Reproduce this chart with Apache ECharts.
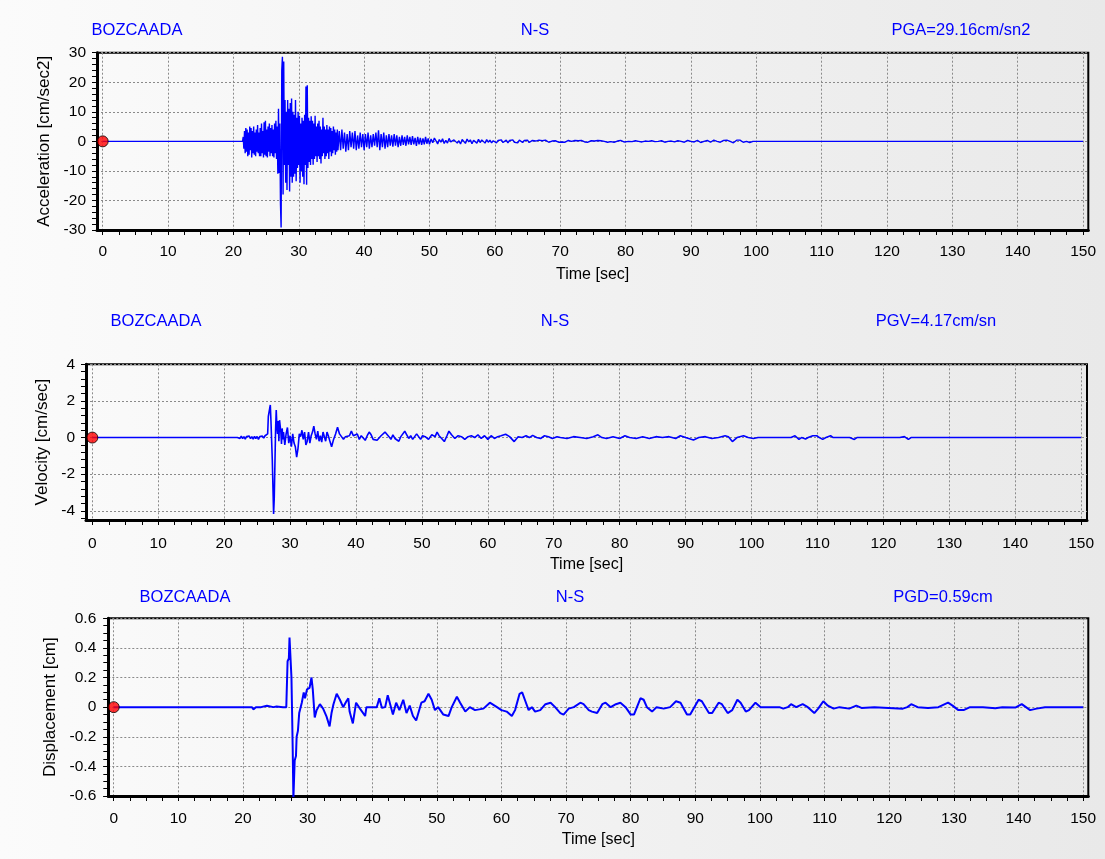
<!DOCTYPE html>
<html><head><meta charset="utf-8">
<script src="https://cdn.jsdelivr.net/npm/echarts@6/dist/echarts.min.js"></script>
<style>
html,body{margin:0;padding:0;}
#c{width:1105px;height:859px;background:linear-gradient(to right,#fbfbfb 0%,#f3f3f3 45%,#e9e9e9 100%);}
</style>
</head><body><div id="c"></div>
<script>
// ---------- tick labels ----------
const timeTicks = [0,10,20,30,40,50,60,70,80,90,100,110,120,130,140,150];
const accYTicks = [-30,-20,-10,0,10,20,30];
const velYTicks = [-4,-2,0,2,4];
const dispYTicks = [-0.6,-0.4,-0.2,0,0.2,0.4,0.6];

// ---------- acceleration [cm/sec2] ----------
const accSeg1Start = 21.4, accSeg1Step = 0.1;
const accSeg1 = [
 0, 1.5, -2.5, 3.5, -4, 4.5, -3.5,
 4, -5, 3, -4.5, 5, -3, 4.5, -5.5, 3.5, -4,
 5, -4.5, 3, -5, 4, -3.5, 5.5, -4, 3, -5,
 4.5, -5, 6, -4, 3.5, -5.5, 6.5, -4.5, 7, -5,
 4, -5.5, 5, -3.5, 6, -5, 4.5, -4, 5.5, -5,
 4, -5.5, 6, -4, 7, -6, 5, -11, 11, -10.7,
 6, -21, -29.16, 24, 28.6, -18, 27, -8, 14, -14,
 10, -16.5, 14, -8, 11, -17, 13, -12, 14.5, -14,
 10, -12, 9, -11, 14, -13.5, 8, -9, 10, -8,
 8.7, -14, 6, -10, 8, -12, 7, -14.5, 9, -8,
 18.6, -14.7, 19, -9, 8, -7, 7, -8, 8.5, -6,
 7, -7.9, 6, -6, 8.7, -5, 5, -7, 6, -5,
 7, -6, 5, -7.5, 4, -5, 8, -4, 5, -6,
 4, -5, 5.5, -4, 4, -6, 5, -3.5, 4.5, -5,
 3.5, -4, 5, -3, 4, -4.5, 3, -3.5, 4, -3
];
const accSeg2Start = 36.2, accSeg2Step = 0.2;
const accSeg2 = [
 3.5, -3, 4, -2.5, 3, -3.5, 2.5, -3, 3.5, -2,
 3, -2.5, 3.5, -3, 2, -2.5, 3, -2, 2.5, -3,
 2.5, -2, 3, -2.5, 2, -2, 2.5, -1.5, 3, -2,
 3.7, -3, 2.5, -2, 3, -2.5, 2, -2, 2.5, -1.5,
 2, -1.8, 2.5, -1.5, 2, -2, 1.5, -1.5, 2, -1.2,
 1.5, -1.5, 2, -1, 1.5, -1.2, 1.8, -1, 1.2, -1.5,
 1.5, -1, 1.2, -1.2, 1, -1, 1.5, -0.8, 1, -1
];
const accSeg3Start = 50.25, accSeg3Step = 0.25;
const accSeg3 = [
 0.8, -0.5, 1.1, 0.2, -0.9, 0.6, -0.3, 0.9, -0.7, 0.3,
 -0.6, 1.0, -0.2, -0.8, 0.5, 0.7, -0.6, 0.2, -0.9, 0.6,
 0.3, -0.7, 0.8, -0.2, 0.5, -0.8, 0.4, 0.1, -0.6, 0.7,
 -0.4, 0.5, -0.1, -0.6, 0.6, -0.3, 0.4, -0.5, 0.2, 0.5,
 -0.5, 0.3, -0.2, 0.5, -0.4, 0.1, 0.4, -0.5, 0.3, -0.2,
 0.5, -0.3, 0.2, -0.5, 0.4, 0, -0.4, 0.3, -0.1, 0.4,
 -0.4, 0.2, 0.3, -0.3, 0.1, -0.4, 0.4, -0.2, 0.2, -0.3,
 0.4, -0.1, -0.3, 0.3, 0.1, -0.4, 0.2, 0.3, -0.3, 0.1,
 -0.2, 0.3, -0.3, 0.1, 0.3, -0.2, 0, -0.3, 0.3, -0.1,
 0.2, -0.3, 0.3, 0, -0.2, 0.3, -0.3, 0.1, 0.2, -0.2,
 0.1, -0.3, 0.3, -0.1, 0.2, -0.2, 0, 0.3, -0.3, 0.1,
 -0.1, 0.2, -0.3, 0.2, 0.1, -0.2, 0.3, -0.1, -0.2, 0.2
];
const accSeg4Start = 80.5, accSeg4Step = 0.5;
const accSeg4 = [
 0, -0.1, 0.2, 0, -0.2, 0.1, 0, 0.2, -0.1, 0,
 0.2, -0.3, 0, 0.1, -0.2, 0.2, 0, -0.3, 0.3, 0,
 -0.2, 0.3, -0.4, 0, 0.3, -0.3, 0.4, 0, -0.3, 0.3,
 0.4, 0, -0.5, 0.4, 0.4, -0.3, 0, -0.4, 0, 0
];
const accTailT = [100.5,106.3,106.5,106.7,109.6,109.8,110.0,111.3,111.5,111.7,115.6,115.8,116.0,150];
const accTailV = [0,0,-0.4,0,0,-0.4,0,0,0.3,0,0,0.4,0,0];

// ---------- velocity [cm/sec] (time, value) ----------
const velPoints = [
 [0,0],[22.0,0],[22.2,0.08],[22.4,-0.05],[22.6,0.08],[22.8,-0.06],[23.0,0.05],[23.2,-0.08],[23.4,0.06],[23.6,-0.04],
 [23.8,0.08],[24.0,-0.06],[24.2,0.05],[24.4,-0.08],[24.6,0.07],[24.8,-0.05],[25.0,0.06],[25.2,-0.1],[25.4,0.05],[25.6,-0.04],
 [25.8,0.08],[26.0,-0.03],[26.2,0.1],[26.4,0.05],[26.6,0.2],[26.7,1.15],[26.9,1.2],[27.0,1.78],[27.1,0.9],[27.2,0.8],
 [27.3,-1.2],[27.4,-1.3],[27.5,-4.17],[27.6,-3.3],[27.7,-3.2],[27.8,0.4],[27.9,1.5],[28.0,0.6],[28.1,0.2],[28.2,0.9],
 [28.3,-0.2],[28.4,0.95],[28.5,1.0],[28.6,0.3],[28.7,-0.35],[28.8,0.5],[28.9,-0.1],[29.0,0.3],[29.2,-0.4],[29.4,0.2],
 [29.6,0.55],[29.8,-0.3],[30.0,0.1],[30.2,-0.5],[30.4,0.2],[30.6,-0.3],[30.8,-0.5],[31.0,-1.07],[31.2,-0.6],[31.4,0.2],
 [31.6,0.05],[31.8,0.4],[32.0,-0.1],[32.2,0.3],[32.4,-0.4],[32.6,-0.2],[32.8,0.3],[33.0,-0.3],[33.2,0.1],[33.4,0.3],
 [33.6,0.62],[33.8,0.2],[34.0,-0.1],[34.2,0.35],[34.4,-0.2],[34.6,0.1],[34.8,-0.25],[35.0,0.3],[35.2,0.05],[35.4,-0.2],
 [35.6,0.3],[35.8,0.1],[36.0,-0.15],[36.3,-0.5],[36.6,-0.1],[36.9,0.2],[37.2,0.56],[37.5,0.2],[37.8,0.1],[38.1,-0.1],
 [38.4,0.05],[38.7,0.15],[39.0,0.1],[39.3,0.35],[39.6,0.1],[39.9,0.0],[40.2,0.2],[40.5,-0.1],[40.8,0.1],[41.1,0.05],
 [41.4,-0.15],[41.7,0.1],[42.0,0.3],[42.3,0.15],[42.6,-0.1],[42.9,0.0],[43.2,-0.15],[43.5,-0.22],[43.8,0.1],[44.1,0.05],
 [44.4,0.3],[44.7,0.35],[45.0,0.05],[45.3,-0.1],[45.6,0.15],[45.9,-0.05],[46.2,0.05],[46.5,-0.2],[46.8,0.05],[47.1,0.1],
 [47.4,0.35],[47.7,0.15],[48.0,-0.05],[48.3,0.1],[48.6,-0.1],[48.9,0.0],[49.2,0.2],[49.5,0.05],[49.8,-0.1],[50.1,0.1],
 [50.5,0.05],[51.0,-0.1],[51.5,0.15],[52.0,0.05],[52.3,0.3],[52.6,0.1],[53.0,-0.05],[53.4,-0.22],[53.8,0.1],[54.1,0.35],
 [54.5,0.15],[55.0,-0.05],[55.5,0.1],[56.0,0.05],[56.5,-0.1],[57.0,0.05],[57.5,0.1],[58.0,0.0],[58.5,0.15],[59.0,-0.05],
 [59.5,0.1],[60.0,-0.1],[60.5,0.1],[61.0,-0.05],[61.5,0.05],[62.0,0.1],[62.7,0.18],[63.3,0.05],[64.0,-0.22],[64.6,0.05],
 [65.2,0.0],[65.8,0.1],[66.3,0.0],[66.8,0.12],[67.4,0.0],[68.0,-0.05],[68.6,0.1],[69.2,0.05],[69.8,-0.05],[70.5,0.05],
 [71.0,0.0],[72.0,-0.05],[73.0,0.05],[74.0,0.0],[75.0,-0.05],[76.0,0.05],[76.7,0.15],[77.3,0.0],[78.0,-0.05],[79.0,0.05],
 [80.0,-0.05],[80.8,0.1],[81.5,0.0],[82.5,-0.05],[83.5,0.05],[84.5,-0.05],[85.5,0.05],[86.5,0.0],[87.5,0.05],[88.5,-0.05],
 [89.2,0.1],[90.0,0.0],[91.2,-0.13],[92.0,0.0],[93.0,0.05],[94.0,-0.05],[95.0,0.0],[96.0,0.1],[96.5,0.05],[97.1,-0.22],
 [97.8,0.0],[98.8,0.1],[99.5,0.0],[100.3,-0.05],[101.0,0],[106.0,0],[106.3,0.08],[106.6,0.1],[106.9,0],[107.2,-0.1],
 [107.6,0],[108.2,-0.08],[108.6,0],[109.3,0.1],[109.9,0.1],[110.3,0],[110.8,-0.1],[111.3,0],[112.0,0.1],[112.4,0],
 [114.3,0],[114.5,0.1],[114.9,0],[115.6,-0.1],[116.0,0],[122.5,0],[122.8,0.1],[123.2,0.05],[123.8,-0.1],[124.2,0],
 [129.4,0],[129.7,-0.1],[130.0,0],[150,0]
];

// ---------- displacement [cm] (time, value) ----------
const dispPoints = [
 [0,0],[21.4,0],[21.6,-0.015],[22.0,0],[22.8,0],[23.1,0.01],[23.7,0.01],[24.0,0],[24.7,0],[25.2,0.005],
 [26.2,0],[26.5,-0.01],[26.7,0],[26.9,0.31],[27.1,0.33],[27.2,0.47],[27.4,0.47],[27.5,0.2],[27.6,-0.04],[27.7,-0.3],
 [27.8,-0.62],[27.9,-0.62],[28.0,-0.36],[28.2,-0.33],[28.3,-0.2],[28.5,-0.16],[28.7,-0.04],[29.1,0.03],[29.4,0.1],[29.6,0.06],
 [29.9,0.12],[30.3,0.13],[30.6,0.2],[30.8,0.12],[31.1,-0.07],[31.4,-0.02],[31.9,0.02],[32.4,-0.01],[32.9,-0.06],[33.4,-0.13],
 [33.7,-0.04],[34.0,0.02],[34.5,0.09],[35.0,0.05],[35.5,0.0],[36.0,0.04],[36.3,0.06],[36.5,-0.03],[37.0,-0.11],[37.5,0.03],
 [38.1,-0.01],[38.9,-0.06],[39.1,0.0],[40.7,0.0],[41.1,0.06],[41.5,-0.005],[42.0,0.0],[42.4,0.08],[42.7,0.09],[43.2,-0.05],
 [43.7,0.03],[44.2,-0.02],[44.8,0.05],[45.3,-0.04],[45.8,0.01],[46.3,-0.06],[46.8,-0.09],[47.6,0.03],[48.1,0.04],[48.7,0.09],
 [49.2,0.05],[49.7,-0.02],[50.2,0.0],[51.0,-0.05],[51.8,-0.06],[52.3,0.0],[53.1,0.07],[53.6,0.03],[54.4,-0.03],[55.1,0.0],
 [55.9,-0.02],[57.2,-0.01],[58.2,0.03],[59.3,0.0],[60.0,-0.02],[60.8,-0.03],[61.6,-0.06],[62.1,-0.02],[62.8,0.09],[63.2,0.1],
 [63.7,0.04],[64.2,-0.02],[64.7,0.0],[65.2,-0.03],[66.0,-0.02],[66.8,0.02],[67.6,0.03],[68.3,0.0],[69.1,-0.04],[69.6,-0.05],
 [70.4,-0.01],[71.2,0.0],[72.2,0.03],[72.7,0.02],[73.5,-0.02],[74.0,-0.03],[74.8,-0.04],[75.6,0.02],[76.1,0.03],[76.9,0.0],
 [77.7,0.02],[78.4,0.03],[79.2,0.0],[80.0,-0.05],[80.5,-0.05],[81.5,0.06],[82.0,0.05],[82.5,0.0],[83.3,-0.03],[84.0,0.0],
 [85.1,-0.01],[86.1,0.0],[87.0,0.04],[87.7,0.03],[88.7,-0.05],[89.2,-0.05],[90.5,0.05],[91.0,0.04],[92.1,-0.04],[92.6,-0.04],
 [93.6,0.03],[94.1,0.02],[95.0,-0.04],[95.7,-0.02],[96.5,0.05],[97.0,0.03],[97.8,-0.03],[98.3,-0.02],[99.3,0.03],[100.1,0.0],
 [103.0,0.0],[103.6,-0.01],[104.3,0.0],[104.8,0.02],[105.6,0.0],[106.6,0.02],[107.4,0.0],[108.4,-0.04],[109.0,-0.01],[109.8,0.04],
 [110.5,0.01],[111.4,-0.01],[112.3,0.0],[113.8,-0.01],[114.9,0.01],[115.7,-0.005],[117.7,0.0],[122.1,-0.01],[122.8,0.0],[123.4,0.02],
 [124.4,0.0],[126.0,-0.005],[127.6,0.0],[129.1,0.03],[129.8,0.01],[130.7,-0.02],[131.5,-0.02],[132.5,0.0],[134.5,0.0],[136.4,-0.007],
 [137.5,0.0],[139.5,-0.003],[140.5,0.02],[141.8,-0.02],[142.8,-0.01],[144.1,0.0],[145.7,0.0],[146.0,-0.01],[146.3,0.0],[150,0]
];

// ---------- build series data ----------
function seg(start, step, vals) { return vals.map((v, i) => [+(start + i * step).toFixed(3), v]); }
const accData = [[0, 0]]
  .concat(seg(accSeg1Start, accSeg1Step, accSeg1))
  .concat(seg(accSeg2Start, accSeg2Step, accSeg2))
  .concat(seg(accSeg3Start, accSeg3Step, accSeg3))
  .concat(seg(accSeg4Start, accSeg4Step, accSeg4))
  .concat(accTailT.map((t, i) => [t, accTailV[i]]));

function steps(a, b, s) { const r = []; const n = Math.round((b - a) / s); for (let i = 0; i <= n; i++) r.push(+(a + i * s).toFixed(4)); return r; }
const timeMinor = steps(0, 150, 2.5);

const FONT = "'Liberation Sans', Arial, sans-serif";
const BLUE = '#0000ff';

const panels = [
  { grid: {left: 97, top: 52.7, width: 991.3, height: 177.3}, xMin: -0.87, xMax: 150.8,
    yMin: -30, yMax: 30, yTicks: accYTicks, yMinor: steps(-30, 30, 2), yName: 'Acceleration [cm/sec2]',
    data: accData, lw: 1.4, xLabM: 14, yLabM: 11, xNameGap: 37, yNameGap: 43,
    titleY: 30, titles: [['BOZCAADA', 137], ['N-S', 535], ['PGA=29.16cm/sn2', 961]] },
  { grid: {left: 86, top: 364.3, width: 1001, height: 155.7}, xMin: -0.96, xMax: 150.9,
    yMin: -4.5, yMax: 4, yTicks: velYTicks, yMinor: steps(-4.4, 4, 0.4), yName: 'Velocity [cm/sec]',
    data: velPoints, lw: 1.6, xLabM: 16, yLabM: 11, xNameGap: 37, yNameGap: 33,
    titleY: 321, titles: [['BOZCAADA', 156], ['N-S', 555], ['PGV=4.17cm/sn', 936]] },
  { grid: {left: 108.3, top: 618.3, width: 980, height: 177.7}, xMin: -0.84, xMax: 150.8,
    yMin: -0.6, yMax: 0.6, yTicks: dispYTicks, yMinor: steps(-0.6, 0.6, 0.05), yName: 'Displacement [cm]',
    data: dispPoints, lw: 2, xLabM: 15, yLabM: 12, xNameGap: 36, yNameGap: 47,
    titleY: 597, titles: [['BOZCAADA', 185], ['N-S', 570], ['PGD=0.59cm', 943]] }
];

const fmt = v => String(Math.round(v * 1000) / 1000);
const grids = [], xAxes = [], yAxes = [], series = [], graphics = [];
panels.forEach((p, k) => {
  grids.push(Object.assign({show: true, borderColor: '#000', borderWidth: 2, backgroundColor: 'transparent', containLabel: false, outerBoundsMode: 'none'}, p.grid));
  xAxes.push({type: 'value', gridIndex: k, position: 'bottom', min: p.xMin, max: p.xMax,
    axisLine: {show: true, onZero: false, lineStyle: {color: '#000', width: 3}},
    axisTick: {show: true, customValues: timeTicks, length: 5, lineStyle: {color: '#000', width: 1}},
    axisLabel: {show: true, customValues: timeTicks, formatter: fmt, color: '#000', fontSize: 15.5, fontFamily: FONT, margin: p.xLabM},
    splitLine: {show: true, lineStyle: {color: '#8a8a8a', width: 1, type: [2, 2]}},
    name: 'Time [sec]', nameLocation: 'middle', nameGap: p.xNameGap,
    nameTextStyle: {color: '#000', fontSize: 16, fontFamily: FONT}});
  xAxes.push({type: 'value', gridIndex: k, position: 'bottom', min: p.xMin, max: p.xMax,
    axisLine: {show: false, onZero: false},
    axisTick: {show: true, customValues: timeMinor, length: 5, lineStyle: {color: '#000', width: 1}},
    axisLabel: {show: false}, splitLine: {show: false}});
  yAxes.push({type: 'value', gridIndex: k, position: 'left', min: p.yMin, max: p.yMax,
    axisLine: {show: true, onZero: false, lineStyle: {color: '#000', width: 3}},
    axisTick: {show: true, customValues: p.yTicks, length: 5, lineStyle: {color: '#000', width: 1}},
    axisLabel: {show: true, customValues: p.yTicks, formatter: fmt, color: '#000', fontSize: 15.5, fontFamily: FONT, margin: p.yLabM},
    splitLine: {show: true, lineStyle: {color: '#8a8a8a', width: 1, type: [2, 2]}},
    name: p.yName, nameLocation: 'middle', nameGap: p.yNameGap, nameRotate: 90,
    nameTextStyle: {color: '#000', fontSize: 17, fontFamily: FONT}});
  yAxes.push({type: 'value', gridIndex: k, position: 'left', min: p.yMin, max: p.yMax,
    axisLine: {show: false, onZero: false},
    axisTick: {show: true, customValues: p.yMinor, length: 5, lineStyle: {color: '#000', width: 1}},
    axisLabel: {show: false}, splitLine: {show: false}});

  series.push({type: 'line', xAxisIndex: 2 * k, yAxisIndex: 2 * k, data: p.data, showSymbol: false, symbol: 'none',
    lineStyle: {color: BLUE, width: p.lw}, clip: true, z: 3, silent: true});
  series.push({type: 'scatter', xAxisIndex: 2 * k, yAxisIndex: 2 * k, data: [[0, 0]], symbolSize: 11,
    itemStyle: {color: '#ff0000', borderColor: '#000', borderWidth: 1}, z: 6, silent: true});

  p.titles.forEach(([txt, x]) => {
    graphics.push({type: 'text', x: x, y: p.titleY, silent: true,
      style: {text: txt, fill: BLUE, fontSize: 16.5, fontFamily: FONT, align: 'center', verticalAlign: 'middle'}});
  });
});

const chart = echarts.init(document.getElementById('c'), null, {renderer: 'canvas'});
chart.setOption({
  animation: false,
  backgroundColor: 'transparent',
  grid: grids, xAxis: xAxes, yAxis: yAxes, series: series, graphic: graphics
});
</script></body></html>
